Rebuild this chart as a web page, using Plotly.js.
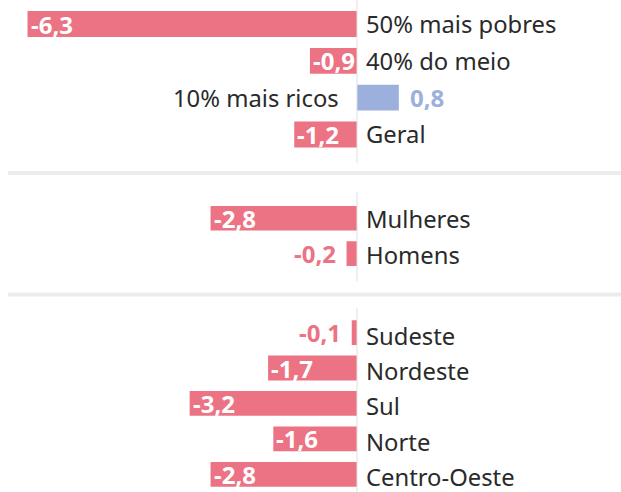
<!DOCTYPE html>
<html>
<head>
<meta charset="utf-8">
<script src="https://cdn.plot.ly/plotly-3.0.1.min.js"></script>
<style>html,body{margin:0;padding:0;background:#fff;}#chart{width:621px;height:492px;}</style>
</head>
<body>
<div id="chart"></div>
<script>
// ---- data ----
const labelsRenda = ["50% mais pobres", "40% do meio", "10% mais ricos", "Geral"];
const valuesRenda = [-6.3, -0.9, 0.8, -1.2];
const labelsSexo = ["Mulheres", "Homens"];
const valuesSexo = [-2.8, -0.2];
const labelsRegiao = ["Sudeste", "Nordeste", "Sul", "Norte", "Centro-Oeste"];
const valuesRegiao = [-0.1, -1.7, -3.2, -1.6, -2.8];

// ---- styling ----
const RED = "#ec7384";
const BLUE = "#9bb0dd";
const CAT_FONT = {family: "Noto Sans, sans-serif", size: 23.8, color: "#2a2a2a"};
const VAL_SIZE = 24;
const groups = [
  {labels: labelsRenda, values: valuesRenda, yax: "y", dom: [1 - 152.9/492, 1 - 5.6/492], catShift: 0},
  {labels: labelsSexo, values: valuesSexo, yax: "y2", dom: [1 - 271.25/492, 1 - 200.25/492], catShift: -1},
  {labels: labelsRegiao, values: valuesRegiao, yax: "y3", dom: [0, 1 - 312.6/492], catShift: -3}
];
const fmt = v => v.toFixed(1).replace(".", ",");

const traces = [];
const annotations = [];
const layout = {
  width: 621, height: 492,
  margin: {l: 0, r: 0, t: 0, b: 0, pad: 0},
  paper_bgcolor: "#fff", plot_bgcolor: "rgba(0,0,0,0)",
  showlegend: false,
  bargap: 0.3,
  xaxis: {range: [-6.826, 5.048], showticklabels: false, showgrid: false, zeroline: false, fixedrange: true},
  annotations: annotations,
  shapes: [
    {type: "line", xref: "x", yref: "paper", x0: 0, x1: 0, y0: 1 - 163/492, y1: 1, line: {color: "#dedede", width: 1}},
    {type: "line", xref: "x", yref: "paper", x0: 0, x1: 0, y0: 1 - 281/492, y1: 1 - 192/492, line: {color: "#dedede", width: 1}},
    {type: "line", xref: "x", yref: "paper", x0: 0, x1: 0, y0: 0, y1: 1 - 308/492, line: {color: "#dedede", width: 1}},
    {type: "line", xref: "paper", yref: "paper", x0: 8/621, x1: 1, y0: 1 - 173/492, y1: 1 - 173/492, line: {color: "#ececec", width: 4}},
    {type: "line", xref: "paper", yref: "paper", x0: 8/621, x1: 1, y0: 1 - 294.5/492, y1: 1 - 294.5/492, line: {color: "#ececec", width: 4}}
  ]
};

groups.forEach((g, gi) => {
  const axKey = gi === 0 ? "yaxis" : "yaxis" + (gi + 1);
  layout[axKey] = {
    domain: g.dom, anchor: "x", type: "category", autorange: "reversed",
    showticklabels: false, showgrid: false, zeroline: false, fixedrange: true
  };
  traces.push({
    type: "bar", orientation: "h",
    x: g.values, y: g.labels,
    xaxis: "x", yaxis: g.yax,
    marker: {color: g.values.map(v => v < 0 ? RED : BLUE), line: {width: 0}},
    hoverinfo: "skip"
  });
  g.labels.forEach((lab, i) => {
    const v = g.values[i];
    // category label on the opposite side of the bar
    annotations.push({
      xref: "x", yref: g.yax, x: 0, y: lab, text: lab, showarrow: false,
      xanchor: v < 0 ? "left" : "right", xshift: v < 0 ? 8 : -17, yshift: g.catShift,
      borderpad: 0, font: CAT_FONT
    });
    // value label
    let a;
    if (v > 0) {
      a = {x: v, xanchor: "left", xshift: 10, color: BLUE};
    } else if (Math.abs(v) < 0.5) {
      a = {x: v, xanchor: "right", xshift: -10, color: RED};
    } else {
      a = {x: v, xanchor: "left", xshift: 2, color: "#ffffff"};
    }
    annotations.push({
      xref: "x", yref: g.yax, x: a.x, y: lab, text: "<b>" + fmt(v) + "</b>", showarrow: false,
      xanchor: a.xanchor, xshift: a.xshift, borderpad: 0,
      font: {family: "Noto Sans, sans-serif", size: VAL_SIZE, color: a.color}
    });
  });
});

Plotly.newPlot("chart", traces, layout, {displayModeBar: false, staticPlot: true});
</script>
</body>
</html>
